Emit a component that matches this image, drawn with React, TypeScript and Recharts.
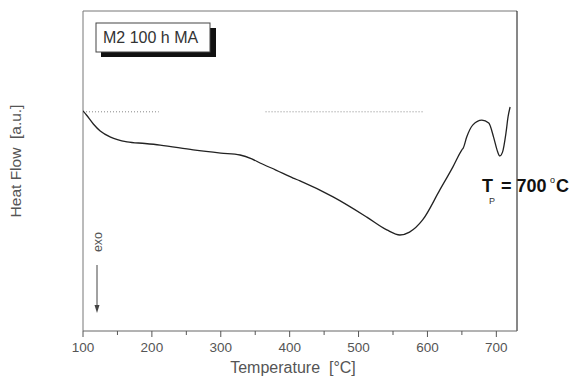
import React from "react";
import { LineChart, Line, XAxis, YAxis, ReferenceLine, Customized } from "recharts";

const temperatures = [100, 105, 115, 125, 140, 150, 164, 190, 212, 260, 300, 328, 345, 357, 380, 405, 415, 463, 512, 541, 560, 574, 593, 618, 637, 650, 652, 657, 666, 679, 689, 696, 701, 705, 709, 714, 717, 720];
const heatFlow = [68.8, 67.5, 64.7, 62.5, 60.6, 59.8, 59.1, 58.6, 58.1, 56.6, 55.6, 55.0, 53.8, 52.5, 50.3, 47.8, 46.9, 41.9, 35.6, 31.6, 30.0, 30.9, 34.7, 44.1, 51.3, 56.6, 57.2, 60.6, 64.4, 65.9, 65.0, 60.6, 56.6, 54.7, 55.9, 61.9, 66.9, 70.0];

const baselineLeftT = [100, 210];
const baselineRightT = [365, 595];
const baselineLevel = 68.5;

const xTicks = [100, 150, 200, 250, 300, 350, 400, 450, 500, 550, 600, 650, 700];
const xDomain = [100, 730];
const yDomain = [0, 100];

const sampleLabel = "M2 100 h MA";
const xLabel = "Temperature\u00a0\u00a0[°C]";
const yLabel = "Heat Flow\u00a0\u00a0[a.u.]";

const curveData = temperatures.map((t, i) => ({ t, v: heatFlow[i] }));
const leftBase = baselineLeftT.map((t) => ({ t, v: baselineLevel }));
const rightBase = baselineRightT.map((t) => ({ t, v: baselineLevel }));

const FONT = "'Liberation Sans', Arial, sans-serif";

const Tick = (props: any) => {
  const { x, y, payload } = props;
  const major = payload.value % 100 === 0;
  return (
    <g>
      <line x1={x} x2={x} y1={y} y2={y + (major ? 6 : 4)} stroke="#555" strokeWidth={1} />
      {major && (
        <text x={x} y={y + 21} textAnchor="middle" fontSize={13.5} fill="#555" fontFamily={FONT}>
          {payload.value}
        </text>
      )}
    </g>
  );
};

const Decor = () => (
  <g fontFamily={FONT}>
    <rect x={101} y={28} width={115} height={29} fill="#111" />
    <rect x={96} y={23} width={114} height={29} fill="#fff" stroke="#444" strokeWidth={1} />
    <text x={103} y={43} fontSize={16} fill="#333">{sampleLabel}</text>
    <text transform="translate(21,161) rotate(-90)" textAnchor="middle" fontSize={15.5} fill="#555">{yLabel}</text>
    <text x={293} y={373} textAnchor="middle" fontSize={16} fill="#555">{xLabel}</text>
    <text transform="translate(102,242) rotate(-90)" textAnchor="middle" fontSize={12.5} fill="#555">exo</text>
    <line x1={97} x2={97} y1={265} y2={306} stroke="#444" strokeWidth={1} />
    <path d="M94.5,305 L99.5,305 L97,313 Z" fill="#444" />
    <text x={482} y={192} fontSize={18} fontWeight={900} fill="#111">T</text>
    <text x={489} y={204} fontSize={9} fill="#333">P</text>
    <text x={501} y={192} fontSize={18} fontWeight={900} fill="#111">= 700</text>
    <text x={550} y={183} fontSize={9} fill="#111">o</text>
    <text x={556} y={192} fontSize={18} fontWeight={900} fill="#111">C</text>
  </g>
);

export default function App() {
  return (
    <div style={{ position: "absolute", left: 0, top: 0, background: "#fff" }}>
      <LineChart width={571} height={378} margin={{ top: 11, right: 54, left: 83, bottom: 0 }}>
        <XAxis
          dataKey="t"
          type="number"
          domain={xDomain}
          ticks={xTicks}
          tick={<Tick />}
          tickLine={false}
          tickSize={0}
          tickMargin={0}
          height={47}
          axisLine={{ stroke: "#666" }}
          allowDataOverflow
        />
        <YAxis type="number" domain={yDomain} hide allowDataOverflow />
        <ReferenceLine x={100} stroke="#777" />
        <ReferenceLine y={100} stroke="#777" />
        <ReferenceLine x={730} stroke="#111" />
        <Line data={leftBase} dataKey="v" stroke="#888" strokeDasharray="1 2" dot={false} isAnimationActive={false} />
        <Line data={rightBase} dataKey="v" stroke="#888" strokeDasharray="1 2" dot={false} isAnimationActive={false} />
        <Line data={curveData} dataKey="v" type="monotone" stroke="#222" strokeWidth={1.3} dot={false} isAnimationActive={false} />
        <Customized component={<Decor />} />
      </LineChart>
    </div>
  );
}
